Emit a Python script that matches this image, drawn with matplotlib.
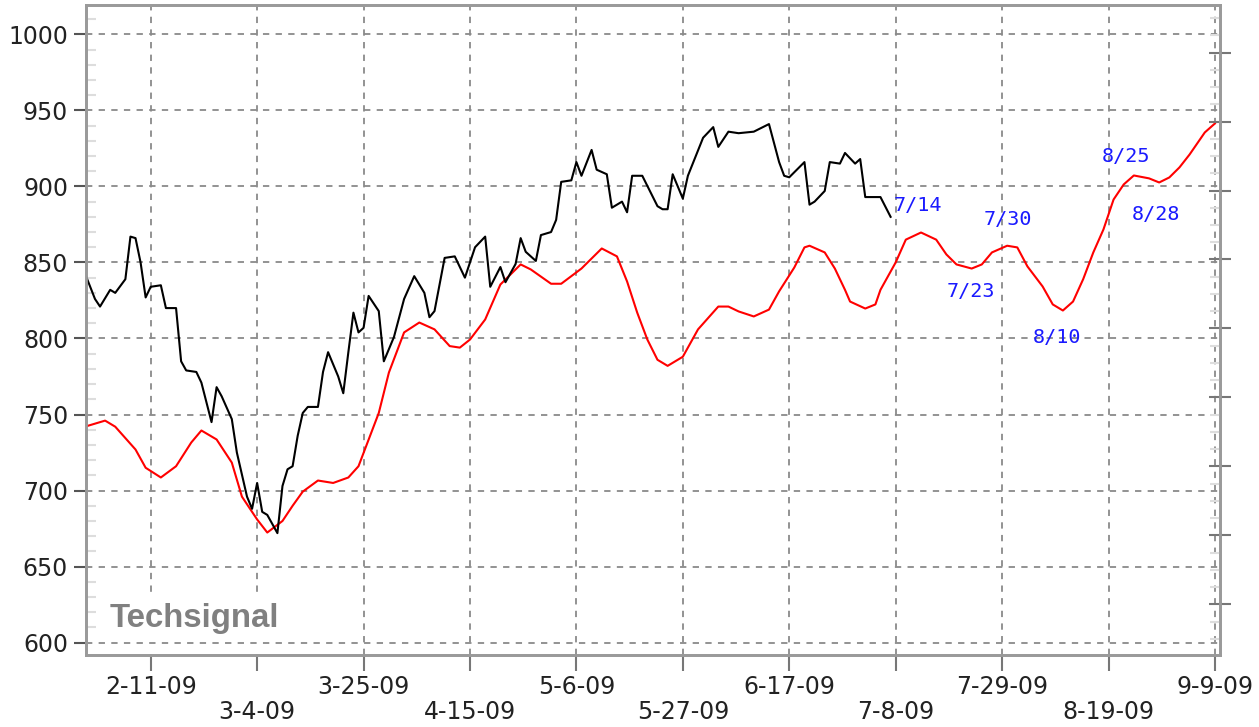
import matplotlib
matplotlib.use("Agg")
import matplotlib.pyplot as plt
import matplotlib.dates as mdates
from matplotlib.ticker import MultipleLocator, FixedLocator, NullFormatter
from matplotlib.patches import Rectangle
import pandas as pd

# ---------------- data ----------------
black_dates = [
    "2009-01-29", "2009-01-31", "2009-02-01", "2009-02-03", "2009-02-04", "2009-02-06",
    "2009-02-07", "2009-02-08", "2009-02-09", "2009-02-10", "2009-02-11", "2009-02-13",
    "2009-02-14", "2009-02-16", "2009-02-17", "2009-02-18", "2009-02-20", "2009-02-21",
    "2009-02-23", "2009-02-24", "2009-02-25", "2009-02-27", "2009-02-28", "2009-03-02",
    "2009-03-03", "2009-03-04", "2009-03-05", "2009-03-06", "2009-03-08", "2009-03-09",
    "2009-03-10", "2009-03-11", "2009-03-12", "2009-03-13", "2009-03-14", "2009-03-16",
    "2009-03-17", "2009-03-18", "2009-03-20", "2009-03-21", "2009-03-22", "2009-03-23",
    "2009-03-24", "2009-03-25", "2009-03-26", "2009-03-28", "2009-03-29", "2009-03-31",
    "2009-04-02", "2009-04-04", "2009-04-06", "2009-04-07", "2009-04-08", "2009-04-10",
    "2009-04-12", "2009-04-14", "2009-04-16", "2009-04-18", "2009-04-19", "2009-04-21",
    "2009-04-22", "2009-04-24", "2009-04-25", "2009-04-26", "2009-04-28", "2009-04-29",
    "2009-05-01", "2009-05-02", "2009-05-03", "2009-05-05", "2009-05-06", "2009-05-07",
    "2009-05-09", "2009-05-10", "2009-05-12", "2009-05-13", "2009-05-15", "2009-05-16",
    "2009-05-17", "2009-05-19", "2009-05-22", "2009-05-23", "2009-05-24", "2009-05-25",
    "2009-05-27", "2009-05-28", "2009-05-31", "2009-06-02", "2009-06-03", "2009-06-05",
    "2009-06-07", "2009-06-10", "2009-06-13", "2009-06-15", "2009-06-16", "2009-06-17",
    "2009-06-20", "2009-06-21", "2009-06-22", "2009-06-24", "2009-06-25", "2009-06-27",
    "2009-06-28", "2009-06-30", "2009-07-01", "2009-07-02", "2009-07-05", "2009-07-07",
]
black_values = [
    843, 826, 821, 832, 830, 839,
    867, 866, 850, 827, 834, 835,
    820, 820, 785, 779, 778, 771,
    745, 768, 762, 747, 725, 696,
    688, 705, 686, 684, 672, 703,
    714, 716, 736, 751, 755, 755,
    778, 791, 775, 764, 791, 817,
    804, 807, 828, 818, 785, 801,
    826, 841, 830, 814, 818, 853,
    854, 840, 860, 867, 834, 847,
    837, 849, 866, 857, 851, 868,
    870, 878, 903, 904, 916, 907,
    924, 911, 908, 886, 890, 883,
    907, 907, 887, 885, 885, 908,
    892, 907, 932, 939, 926, 936,
    935, 936, 941, 916, 907, 906,
    916, 888, 890, 897, 916, 915,
    922, 915, 918, 893, 893, 880,
]

red_dates = [
    "2009-01-29", "2009-02-02", "2009-02-04", "2009-02-08", "2009-02-10", "2009-02-13",
    "2009-02-16", "2009-02-19", "2009-02-21", "2009-02-24", "2009-02-27", "2009-03-01",
    "2009-03-04", "2009-03-06", "2009-03-09", "2009-03-11", "2009-03-13", "2009-03-16",
    "2009-03-19", "2009-03-22", "2009-03-24", "2009-03-28", "2009-03-30", "2009-04-02",
    "2009-04-05", "2009-04-08", "2009-04-11", "2009-04-13", "2009-04-15", "2009-04-18",
    "2009-04-21", "2009-04-25", "2009-04-27", "2009-05-01", "2009-05-03", "2009-05-07",
    "2009-05-11", "2009-05-14", "2009-05-16", "2009-05-18", "2009-05-20", "2009-05-22",
    "2009-05-24", "2009-05-27", "2009-05-30", "2009-06-03", "2009-06-05", "2009-06-07",
    "2009-06-10", "2009-06-13", "2009-06-15", "2009-06-18", "2009-06-20", "2009-06-21",
    "2009-06-24", "2009-06-26", "2009-06-28", "2009-06-29", "2009-07-02", "2009-07-04",
    "2009-07-05", "2009-07-08", "2009-07-10", "2009-07-13", "2009-07-16", "2009-07-18",
    "2009-07-20", "2009-07-23", "2009-07-25", "2009-07-27", "2009-07-30", "2009-08-01",
    "2009-08-03", "2009-08-06", "2009-08-08", "2009-08-10", "2009-08-12", "2009-08-14",
    "2009-08-16", "2009-08-18", "2009-08-20", "2009-08-22", "2009-08-24", "2009-08-27",
    "2009-08-29", "2009-08-31", "2009-09-02", "2009-09-04", "2009-09-07", "2009-09-09",
]
red_values = [
    742, 746, 742, 727, 715, 708.6,
    716, 731.6, 739.5, 733.6, 718.4, 696,
    681, 672.4, 680, 690, 699.3, 706.6,
    705, 708.6, 716, 751, 777.6, 804,
    810.5, 806, 795, 794, 799.3, 812.5,
    835.5, 848.7, 845.4, 836, 836, 846,
    859.2, 854, 837.5, 817, 799.3, 786,
    782, 788, 806, 821, 821, 817.8,
    814.5, 819, 831, 846.7, 859.9, 861,
    856.6, 846, 832, 824.3, 819.7, 822.4,
    832, 850, 865, 869.7, 865, 855.3,
    848.7, 846, 848.7, 856.6, 861, 859.9,
    847.4, 834.2, 822.4, 818.4, 824.3, 839,
    856.6, 871.7, 891.4, 901.3, 907.2, 905.3,
    902.6, 905.9, 912.5, 921, 935.5, 941.4,
]

tick_dates = ["2009-02-11", "2009-03-04", "2009-03-25", "2009-04-15", "2009-05-06",
              "2009-05-27", "2009-06-17", "2009-07-08", "2009-07-29", "2009-08-19",
              "2009-09-09"]
tick_labels = ["2-11-09", "3-4-09", "3-25-09", "4-15-09", "5-6-09", "5-27-09",
               "6-17-09", "7-8-09", "7-29-09", "8-19-09", "9-9-09"]
y_ticks = [600, 650, 700, 750, 800, 850, 900, 950, 1000]

annot_labels = ["7/14", "7/30", "7/23", "8/10", "8/25", "8/28"]
annot_dates = ["2009-07-07 12:00", "2009-07-25 07:00", "2009-07-18 00:00",
               "2009-08-04 00:00", "2009-08-17 17:00", "2009-08-23 12:00"]
annot_values = [887.6, 878.4, 831.0, 800.8, 919.8, 881.7]

watermark = "Techsignal"

# ---------------- figure ----------------
W, H = 1259, 727
fig = plt.figure(figsize=(W / 100, H / 100), dpi=100)
L, R, T, B = 86, 1220, 5, 654.5
ax = fig.add_axes([L / W, 1 - B / H, (R - L) / W, (B - T) / H])

bd = pd.to_datetime(black_dates)
rd = pd.to_datetime(red_dates)
td = pd.to_datetime(tick_dates)
ad = pd.to_datetime(annot_dates)

x0 = mdates.date2num(pd.Timestamp("2009-02-11")) - 12.77
x1 = mdates.date2num(pd.Timestamp("2009-09-09")) + 1.0
ax.set_xlim(x0, x1)
ymin, ymax = 592.2, 1019.3
ax.set_ylim(ymin, ymax)

gridc = "#8a8a8a"
dash = (0, (3.5, 3.5))
for d in td:
    ax.axvline(d, color=gridc, lw=1.3, ls=dash, zorder=1)
# white patch behind the watermark (hides vertical grid there)
ax.add_patch(Rectangle((mdates.date2num(pd.Timestamp("2009-02-01")), ymin),
                       45, 632.9 - ymin, facecolor="white", edgecolor="none", zorder=1.5))
for v in y_ticks:
    ax.axhline(v, color=gridc, lw=1.3, ls=dash, zorder=2)

ax.plot(rd, red_values, color="#ff0000", lw=1.5, zorder=3)
ax.plot(bd, black_values, color="#000000", lw=1.5, zorder=4)

for lab, d, v in zip(annot_labels, ad, annot_values):
    ax.text(d, v, lab, color="#1a1aff", fontsize=14.5, family="DejaVu Sans Mono",
            ha="left", va="center", zorder=5)

ax.text(110 / (R - L) - L / (R - L) + 0.0, 0.0428, watermark, transform=ax.transAxes,
        fontsize=23.8, fontweight="bold", family="Liberation Sans", color="#808080",
        ha="left", va="baseline", zorder=5)

# spines
for s in ax.spines.values():
    s.set_color("#9a9a9a")
    s.set_linewidth(2)

# y axis
ax.yaxis.set_major_locator(FixedLocator(y_ticks))
ax.set_yticklabels([str(v) for v in y_ticks])
ax.yaxis.set_minor_locator(MultipleLocator(10))
ax.tick_params(axis="y", which="major", direction="out", length=8.6, width=1.5,
               color="#555555", labelsize=17, labelcolor="#222222", pad=4.3)
ax.tick_params(axis="y", which="minor", direction="in", length=7, width=1.5,
               color="#dddddd")

# x axis
ax.xaxis.set_major_locator(FixedLocator(mdates.date2num(td)))
labs = [lab if i % 2 == 0 else "\n" + lab for i, lab in enumerate(tick_labels)]
ax.set_xticklabels(labs)
ax.tick_params(axis="x", which="major", direction="out", length=11.5, width=1.5,
               color="#777777", labelsize=17, labelcolor="#222222", pad=3.6)
for t in ax.get_xticklabels():
    t.set_linespacing(1.05)

# right secondary scale (unlabeled)
ax2 = ax.twinx()
ax2.set_position(ax.get_position())
k0, step = 625.2, 45.35
ax2.set_ylim((ymin - k0) / step, (ymax - k0) / step)
ax2.yaxis.set_major_locator(MultipleLocator(1))
ax2.yaxis.set_minor_locator(MultipleLocator(0.25))
ax2.yaxis.set_major_formatter(NullFormatter())
ax2.tick_params(axis="y", which="major", direction="inout", length=16.5, width=1.5,
                color="#777777")
ax2.tick_params(axis="y", which="minor", direction="in", length=7, width=1.5,
                color="#dddddd")
for s in ax2.spines.values():
    s.set_color("#9a9a9a")
    s.set_linewidth(2)

fig.savefig("out.png", dpi=100, facecolor="white")
